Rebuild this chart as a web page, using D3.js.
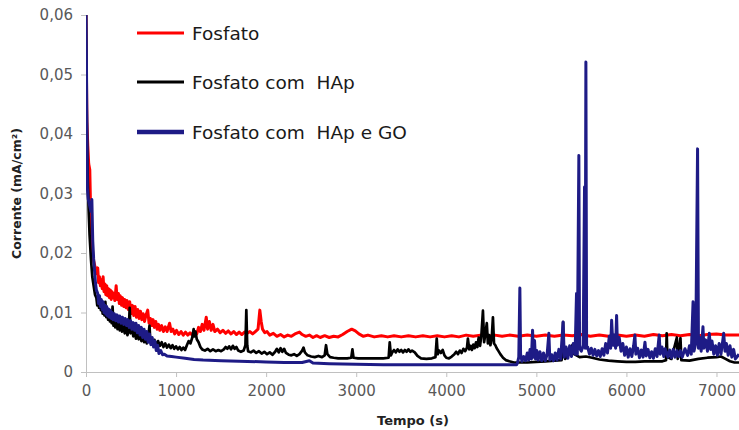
<!DOCTYPE html>
<html>
<head>
<meta charset="utf-8">
<script src="https://cdn.jsdelivr.net/npm/d3@7"></script>
<style>
  html, body { margin: 0; padding: 0; background: #fff; }
  svg { display: block; }
  text { font-family: "DejaVu Sans", sans-serif; }
</style>
</head>
<body>
<svg id="chart" width="739" height="430"></svg>
<script>
// ticks
const xTicks = [0, 1000, 2000, 3000, 4000, 5000, 6000, 7000];
const yTicks = [0, 0.01, 0.02, 0.03, 0.04, 0.05, 0.06];
const yTickLabels = ["0", "0,01", "0,02", "0,03", "0,04", "0,05", "0,06"];

const seriesNames = ["Fosfato", "Fosfato com  HAp", "Fosfato com  HAp e GO"];
const seriesColors = ["#ff0000", "#000000", "#1e1b86"];

// [tempo (s), corrente (mA/cm2)]
const fosfato = [
  [0,0.060],[5,0.050],[10,0.042],[20,0.038],[30,0.035],[42,0.034],[50,0.028],[60,0.024],[70,0.021],[80,0.019],
  [95,0.018],[110,0.017],[120,0.0165],[130,0.0175],[140,0.015],[150,0.016],[160,0.0145],[170,0.0155],[180,0.014],
  [190,0.016],[200,0.0135],[210,0.0148],[220,0.013],[230,0.0145],[240,0.0128],[250,0.014],[260,0.0125],[270,0.0138],
  [280,0.0122],[290,0.0135],[300,0.0125],[310,0.0132],[320,0.012],[335,0.0145],[345,0.0122],[360,0.0132],[370,0.0115],
  [380,0.0128],[395,0.0112],[405,0.0125],[420,0.011],[430,0.0122],[445,0.0108],[455,0.012],[470,0.0105],[485,0.0118],
  [500,0.0098],[515,0.0112],[530,0.0095],[545,0.011],[560,0.0092],[575,0.0105],[590,0.009],[605,0.0102],[620,0.0088],
  [635,0.0098],[650,0.0085],[665,0.0095],[685,0.0104],[700,0.0082],[715,0.009],[730,0.0078],[745,0.0088],[760,0.0075],
  [775,0.0085],[790,0.0072],[805,0.008],[820,0.007],[840,0.0078],[860,0.0068],[880,0.0076],[900,0.0068],[928,0.0082],
  [945,0.0068],[965,0.0072],[985,0.0064],[1005,0.007],[1030,0.0063],[1055,0.0068],[1080,0.0062],[1105,0.0067],
  [1130,0.0062],[1155,0.0066],[1180,0.0062],[1205,0.0068],[1230,0.0064],[1250,0.0075],[1270,0.0068],[1290,0.008],
  [1310,0.007],[1335,0.0092],[1350,0.0072],[1370,0.0085],[1390,0.007],[1410,0.008],[1430,0.0068],[1460,0.0072],
  [1490,0.0066],[1520,0.007],[1550,0.0065],[1580,0.0069],[1610,0.0064],[1640,0.0068],[1670,0.0063],[1700,0.0067],
  [1730,0.0063],[1760,0.0067],[1790,0.0065],[1820,0.0068],[1850,0.0064],[1880,0.0068],[1910,0.0072],[1930,0.0104],
  [1945,0.0085],[1960,0.0072],[1985,0.0066],[2010,0.0068],[2040,0.0062],[2080,0.0065],[2120,0.006],[2160,0.0063],
  [2200,0.0059],[2240,0.0062],[2280,0.006],[2320,0.0064],[2370,0.0067],[2400,0.0063],[2440,0.006],[2480,0.0062],
  [2520,0.0058],[2560,0.0061],[2600,0.0058],[2650,0.0061],[2700,0.0058],[2750,0.006],[2800,0.0059],[2850,0.0063],
  [2900,0.0068],[2950,0.0072],[2990,0.0069],[3030,0.0064],[3080,0.006],[3130,0.0062],[3200,0.0059],[3280,0.0061],
  [3350,0.0059],[3420,0.0061],[3500,0.0059],[3580,0.0061],[3660,0.0059],[3740,0.0061],[3820,0.0059],[3900,0.0061],
  [3980,0.0059],[4060,0.0061],[4140,0.0059],[4220,0.0062],[4300,0.006],[4380,0.0062],[4460,0.006],[4540,0.0062],
  [4620,0.006],[4700,0.0062],[4800,0.006],[4900,0.0062],[5000,0.006],[5100,0.0062],[5200,0.006],[5300,0.0062],
  [5400,0.0061],[5500,0.0063],[5600,0.006],[5700,0.0062],[5800,0.006],[5900,0.0062],[6000,0.006],[6100,0.0062],
  [6200,0.006],[6300,0.0063],[6400,0.0061],[6500,0.0063],[6600,0.0061],[6700,0.0063],[6800,0.0061],[6900,0.0063],
  [7000,0.0064],[7100,0.0062],[7250,0.0062]
];

const fosfatoHAp = [
  [0,0.060],[5,0.048],[10,0.040],[20,0.032],[30,0.027],[40,0.023],[55,0.019],[70,0.016],[85,0.0145],[100,0.013],
  [115,0.0125],[125,0.0112],[135,0.0122],[145,0.0108],[155,0.012],[165,0.0104],[175,0.0115],[185,0.0098],[195,0.0112],
  [205,0.0095],[215,0.0118],[225,0.0092],[235,0.0105],[245,0.0088],[255,0.0102],[265,0.0085],[275,0.0098],[285,0.0082],
  [295,0.011],[305,0.0078],[315,0.0095],[325,0.0075],[340,0.009],[350,0.0072],[365,0.0088],[375,0.007],[390,0.0085],
  [400,0.0068],[415,0.008],[430,0.0065],[445,0.0078],[460,0.0062],[475,0.0072],[485,0.0108],[495,0.0065],[510,0.0075],
  [525,0.006],[540,0.007],[555,0.0056],[570,0.0068],[585,0.0055],[600,0.0065],[615,0.0052],[630,0.0062],[645,0.005],
  [660,0.006],[675,0.0048],[690,0.0058],[705,0.0078],[715,0.005],[730,0.0056],[745,0.0046],[760,0.0054],[780,0.0045],
  [800,0.0052],[820,0.0044],[840,0.005],[860,0.0042],[880,0.0048],[900,0.0041],[920,0.0046],[940,0.004],[960,0.0045],
  [980,0.0039],[1000,0.0043],[1020,0.0038],[1040,0.0042],[1060,0.0037],[1080,0.0041],[1100,0.0037],[1120,0.0045],
  [1140,0.0052],[1160,0.0048],[1180,0.0058],[1195,0.0072],[1205,0.006],[1215,0.0068],[1230,0.0055],[1250,0.005],
  [1270,0.0042],[1290,0.0038],[1320,0.0036],[1350,0.0039],[1380,0.0035],[1410,0.0038],[1440,0.0035],[1470,0.0037],
  [1500,0.0035],[1530,0.0038],[1550,0.0042],[1570,0.0039],[1590,0.0043],[1610,0.0038],[1630,0.0044],[1650,0.0039],
  [1670,0.0042],[1690,0.0036],[1720,0.0034],[1750,0.0036],[1770,0.0045],[1780,0.0104],[1790,0.0045],[1800,0.0035],
  [1830,0.0033],[1860,0.0036],[1890,0.0032],[1920,0.0035],[1950,0.0031],[1980,0.0034],[2010,0.003],[2040,0.0033],
  [2070,0.0029],[2100,0.0034],[2120,0.0039],[2140,0.0033],[2160,0.004],[2180,0.0034],[2200,0.0039],[2220,0.0032],
  [2250,0.0029],[2280,0.0028],[2310,0.003],[2340,0.0027],[2370,0.003],[2400,0.0036],[2415,0.0041],[2430,0.0033],
  [2460,0.0028],[2500,0.0026],[2540,0.0025],[2580,0.0027],[2620,0.0025],[2650,0.0028],[2665,0.0045],[2680,0.003],
  [2710,0.0025],[2750,0.0024],[2800,0.0023],[2850,0.0023],[2900,0.0023],[2945,0.0024],[2958,0.0038],[2970,0.0024],
  [3020,0.0023],[3100,0.0023],[3200,0.0023],[3300,0.0023],[3360,0.0024],[3372,0.005],[3385,0.0028],[3400,0.0033],
  [3420,0.0037],[3440,0.0033],[3460,0.0038],[3480,0.0034],[3500,0.0037],[3520,0.0033],[3540,0.0037],[3560,0.0034],
  [3580,0.0038],[3600,0.0034],[3620,0.0036],[3650,0.0033],[3680,0.0027],[3720,0.0023],[3780,0.0022],[3840,0.0023],
  [3880,0.0025],[3894,0.0056],[3905,0.003],[3920,0.0036],[3940,0.0032],[3960,0.0037],[3980,0.0028],[4000,0.0024],
  [4030,0.0023],[4060,0.0026],[4090,0.003],[4110,0.0034],[4130,0.003],[4150,0.0036],[4170,0.0032],[4190,0.0039],
  [4210,0.0035],[4230,0.0041],[4240,0.0056],[4255,0.0038],[4270,0.0044],[4285,0.0037],[4300,0.0046],[4315,0.004],
  [4330,0.005],[4345,0.0042],[4360,0.0058],[4375,0.0044],[4390,0.0062],[4407,0.0103],[4420,0.005],[4435,0.0065],
  [4450,0.0082],[4462,0.0048],[4475,0.0062],[4490,0.0045],[4505,0.0058],[4518,0.0092],[4530,0.0048],[4545,0.0045],
  [4560,0.004],[4580,0.0035],[4600,0.003],[4630,0.0024],[4660,0.002],[4700,0.0018],[4750,0.0016],[4800,0.0016],
  [4900,0.0016],[5000,0.0017],[5100,0.0018],[5200,0.0019],[5280,0.002],[5290,0.0045],[5297,0.0084],[5305,0.0035],
  [5320,0.0022],[5380,0.0035],[5400,0.0045],[5420,0.003],[5480,0.0025],[5550,0.0026],[5620,0.0024],[5700,0.0021],
  [5800,0.0019],[5900,0.0018],[6000,0.0017],[6100,0.0017],[6200,0.0018],[6300,0.0018],[6400,0.0018],[6440,0.002],
  [6447,0.0065],[6455,0.0025],[6500,0.0022],[6560,0.0058],[6570,0.0022],[6600,0.0057],[6610,0.002],[6700,0.0019],
  [6800,0.0022],[6900,0.0024],[7000,0.0025],[7050,0.0026],[7100,0.0022],[7150,0.0018],[7200,0.0016],[7250,0.0016]
];

const fosfatoHApGO = [
  [0,0.060],[5,0.052],[8,0.045],[12,0.038],[15,0.031],[25,0.029],[40,0.028],[55,0.027],[65,0.029],[75,0.022],
  [85,0.019],[95,0.017],[105,0.015],[115,0.0138],[130,0.0132],[140,0.0115],[150,0.0128],[160,0.011],[170,0.0122],
  [180,0.0105],[190,0.0118],[200,0.010],[210,0.0112],[220,0.0097],[230,0.011],[240,0.0094],[250,0.0106],[260,0.0092],
  [270,0.0104],[280,0.009],[290,0.010],[300,0.0088],[315,0.0098],[330,0.0086],[345,0.0096],[360,0.0084],[375,0.0094],
  [390,0.0082],[405,0.0092],[420,0.008],[435,0.009],[450,0.0078],[465,0.0088],[480,0.0075],[495,0.0086],[510,0.0072],
  [525,0.0083],[540,0.007],[555,0.0082],[570,0.0066],[585,0.0078],[600,0.0062],[615,0.0075],[630,0.0058],[645,0.0072],
  [660,0.0055],[675,0.0068],[690,0.005],[705,0.0064],[720,0.0046],[735,0.0058],[750,0.0042],[765,0.0052],[780,0.0036],
  [795,0.0045],[810,0.0031],[830,0.0036],[850,0.0029],[870,0.003],[900,0.0027],[950,0.0026],[1000,0.0025],
  [1100,0.0023],[1200,0.0021],[1300,0.002],[1500,0.0019],[1700,0.0018],[2000,0.0017],[2200,0.0016],[2400,0.0016],
  [2480,0.0019],[2520,0.0015],[2700,0.0014],[3000,0.0013],[3300,0.0012],[3600,0.0012],[4000,0.0012],[4400,0.0012],
  [4780,0.0012],[4790,0.0015],[4805,0.0025],[4817,0.0141],[4825,0.003],[4840,0.0018],[4860,0.0026],[4880,0.0019],
  [4900,0.0032],[4915,0.002],[4930,0.0038],[4945,0.0022],[4958,0.007],[4968,0.0025],[4980,0.0053],[4990,0.0022],
  [5005,0.0036],[5020,0.002],[5040,0.0034],[5060,0.0019],[5080,0.0032],[5100,0.0019],[5120,0.003],[5139,0.0065],
  [5150,0.002],[5170,0.0029],[5190,0.0019],[5210,0.0032],[5230,0.002],[5250,0.0038],[5270,0.0022],[5297,0.0084],
  [5310,0.0025],[5330,0.0042],[5350,0.0023],[5370,0.0044],[5390,0.0026],[5410,0.0048],[5430,0.003],[5446,0.0132],
  [5455,0.003],[5472,0.0364],[5480,0.004],[5500,0.0035],[5520,0.0045],[5535,0.0311],[5542,0.004],[5550,0.0521],
  [5558,0.004],[5570,0.0042],[5590,0.003],[5610,0.004],[5630,0.0028],[5650,0.0038],[5670,0.0027],[5690,0.0036],
  [5710,0.0026],[5730,0.0039],[5750,0.0028],[5770,0.0048],[5790,0.0032],[5810,0.006],[5825,0.004],[5836,0.0087],
  [5850,0.0045],[5865,0.0062],[5880,0.004],[5891,0.0095],[5900,0.0045],[5920,0.0058],[5940,0.0035],[5960,0.0048],
  [5980,0.0028],[6000,0.0042],[6020,0.0025],[6040,0.0039],[6060,0.0026],[6080,0.0044],[6094,0.0062],[6105,0.003],
  [6125,0.004],[6145,0.0024],[6165,0.0037],[6185,0.0025],[6206,0.005],[6220,0.0027],[6240,0.0038],[6260,0.0024],
  [6280,0.0034],[6300,0.0023],[6320,0.0039],[6340,0.0026],[6364,0.0062],[6375,0.003],[6395,0.0042],[6415,0.0026],
  [6430,0.0039],[6460,0.0025],[6480,0.0037],[6500,0.0024],[6520,0.0038],[6540,0.0025],[6560,0.0036],[6580,0.0026],
  [6600,0.0036],[6620,0.0025],[6650,0.0039],[6680,0.0028],[6700,0.0044],[6720,0.003],[6740,0.0118],[6750,0.0035],
  [6770,0.0048],[6790,0.0375],[6800,0.004],[6815,0.0058],[6830,0.0035],[6850,0.0076],[6860,0.004],[6880,0.0054],
  [6900,0.0035],[6920,0.0065],[6935,0.0038],[6950,0.0052],[6970,0.003],[6990,0.0044],[7010,0.0028],[7030,0.0048],
  [7050,0.003],[7080,0.0065],[7095,0.0035],[7110,0.0048],[7130,0.0028],[7150,0.0044],[7170,0.0025],[7190,0.0038],
  [7210,0.0022],[7250,0.003]
];

const seriesData = [fosfato, fosfatoHAp, fosfatoHApGO];

const svg = d3.select("#chart");
const margin = { top: 15, right: 0, bottom: 58, left: 86 };
const width = 739, height = 430;

const x = d3.scaleLinear().domain([0, 7250]).range([margin.left, width - margin.right]);
const y = d3.scaleLinear().domain([0, 0.06]).range([height - margin.bottom, margin.top]);

svg.append("defs").append("clipPath").attr("id", "plot")
  .append("rect")
  .attr("x", margin.left).attr("y", 0)
  .attr("width", width - margin.left).attr("height", height - margin.bottom);

// axes
const axisColor = "#c0c0c0", labelColor = "#595959";
svg.append("g")
  .attr("transform", `translate(${margin.left},0)`)
  .call(d3.axisLeft(y).tickValues(yTicks).tickFormat((d, i) => yTickLabels[i]).tickSize(5).tickPadding(8))
  .call(g => g.selectAll("line, path").attr("stroke", axisColor))
  .call(g => g.selectAll("text").attr("fill", labelColor).attr("font-size", 15).attr("font-family", "DejaVu Sans"));

svg.append("g")
  .attr("transform", `translate(0,${height - margin.bottom})`)
  .call(d3.axisBottom(x).tickValues(xTicks).tickFormat(d => String(d)).tickSize(5).tickPadding(8).tickSizeOuter(0))
  .call(g => g.selectAll("line, path").attr("stroke", axisColor))
  .call(g => g.selectAll("text").attr("fill", labelColor).attr("font-size", 15).attr("font-family", "DejaVu Sans"));

svg.append("text")
  .attr("transform", `translate(21,${y(0.03)}) rotate(-90)`)
  .attr("text-anchor", "middle")
  .attr("font-size", 12.5).attr("font-weight", "bold").attr("fill", "#222")
  .text("Corrente (mA/cm²)");

svg.append("text")
  .attr("x", 413).attr("y", 425)
  .attr("text-anchor", "middle")
  .attr("font-size", 13).attr("font-weight", "bold").attr("fill", "#222")
  .text("Tempo (s)");

// lines
const line = d3.line().x(d => x(d[0])).y(d => y(d[1]));
const widths = [3, 2.7, 3];
svg.append("g").attr("clip-path", "url(#plot)")
  .selectAll("path")
  .data(seriesData)
  .join("path")
  .attr("fill", "none")
  .attr("stroke", (d, i) => seriesColors[i])
  .attr("stroke-width", (d, i) => widths[i])
  .attr("stroke-linejoin", "round")
  .attr("d", line);

// legend
const legend = svg.append("g");
const legendY = [33, 82, 132];
seriesNames.forEach((name, i) => {
  legend.append("line")
    .attr("x1", 137).attr("x2", 184)
    .attr("y1", legendY[i]).attr("y2", legendY[i])
    .attr("stroke", seriesColors[i])
    .attr("stroke-width", i === 2 ? 4.5 : 3);
  legend.append("text")
    .attr("x", 192).attr("y", legendY[i] + 6.5)
    .attr("font-size", 18.5).attr("fill", "#1a1a1a")
    .style("white-space", "pre")
    .text(name);
});
</script>
</body>
</html>
